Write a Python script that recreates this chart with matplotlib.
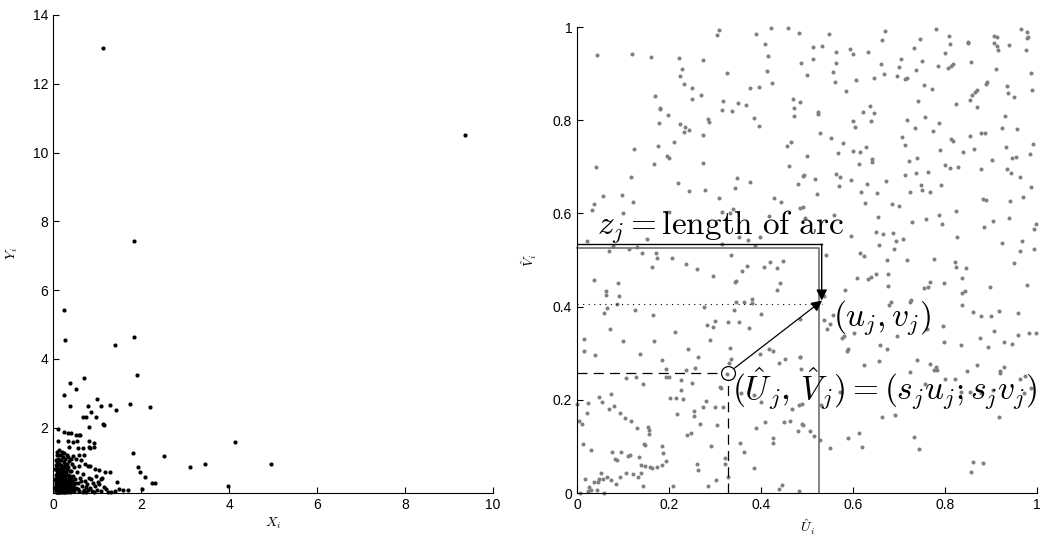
import numpy as np
import matplotlib
matplotlib.use("Agg")
import matplotlib.pyplot as plt

plt.rcParams['font.family'] = ['Liberation Sans', 'DejaVu Sans']
plt.rcParams['mathtext.fontset'] = 'cm'

# ---- left panel: raw (X_i, Y_i) ----
xi_vals = [
    1.14, 9.36, 1.84, 0.25, 0.27, 1.83, 1.41, 1.91, 0.70, 0.39,
    0.52, 0.26, 1.01, 0.38, 0.80, 1.10, 0.87, 1.30, 1.43, 1.74,
    2.21, 0.69, 0.76, 0.98, 1.14, 1.16, 0.81, 0.12, 0.24, 0.33,
    0.41, 0.53, 0.58, 0.62, 0.12, 0.35, 0.45, 0.54, 0.81, 0.93,
    0.81, 0.94, 0.68, 0.85, 0.36, 0.57, 0.70, 1.81, 2.53, 4.14,
    3.11, 3.45, 3.97, 4.95, 1.93, 1.98, 2.08, 2.31, 2.26, 1.46,
    1.50, 1.58, 1.71, 2.02, 1.32, 1.40, 1.18, 1.05, 0.95, 0.85,
    1.30, 0.72, 0.80,
    0.08, 0.10, 0.12, 0.14, 0.09, 0.11, 0.13, 0.16, 0.18, 0.20,
    0.07, 0.15, 0.17, 0.19, 0.22, 0.24, 0.21, 0.23, 0.26, 0.28,
    0.06, 0.08, 0.10, 0.12, 0.14, 0.16, 0.18, 0.20, 0.22, 0.25,
    0.27, 0.29, 0.31, 0.33, 0.30, 0.32, 0.34, 0.36, 0.38, 0.40,
    0.35, 0.37, 0.39, 0.42, 0.44, 0.41, 0.43, 0.45, 0.47, 0.48,
    0.07, 0.09, 0.11, 0.13, 0.15, 0.17, 0.19, 0.21, 0.23, 0.25,
    0.06, 0.08, 0.10, 0.12, 0.14, 0.16, 0.18, 0.20, 0.22, 0.24,
    0.26, 0.28, 0.30, 0.32, 0.34, 0.36, 0.38, 0.40, 0.42, 0.44,
    0.09, 0.11, 0.13, 0.15, 0.17, 0.19, 0.24, 0.28, 0.31, 0.27,
    0.50, 0.52, 0.55, 0.57, 0.60, 0.62, 0.58, 0.65, 0.68, 0.70,
    0.72, 0.75, 0.78, 0.82, 0.85, 0.88, 0.90, 0.95, 1.00, 1.05,
    1.10, 1.15, 1.20, 1.25, 1.08, 0.98, 0.92, 0.64, 0.60, 0.52,
    0.48, 0.46, 0.07, 0.10, 0.14, 0.20, 0.26, 0.33, 0.40, 0.06,
    0.07, 0.09, 0.12, 0.14, 0.16, 0.18, 0.20, 0.22, 0.24, 0.26,
    0.28, 0.30, 0.32, 0.34, 0.36, 0.38, 0.40, 0.10, 0.13, 0.17,
    0.11, 0.15, 0.19, 0.23, 0.05, 0.05, 0.05, 0.06, 0.08, 0.29,
    0.07, 0.10, 0.13, 0.17, 0.21, 0.25, 0.29, 0.33, 0.37, 0.42,
    0.06, 0.09, 0.12, 0.15, 0.19, 0.23, 0.27, 0.31, 0.35, 0.39,
    0.46, 0.51, 0.56, 0.63, 0.67, 0.74, 0.79, 0.86, 1.02, 1.12,
]
yi_vals = [
    13.05, 10.5, 7.42, 5.42, 4.54, 4.64, 4.41, 3.52, 3.45, 3.30,
    3.11, 2.96, 2.84, 2.64, 2.64, 2.64, 2.45, 2.66, 2.52, 2.68,
    2.60, 2.30, 2.30, 2.30, 2.10, 2.07, 2.01, 1.96, 1.86, 1.85,
    1.84, 1.80, 1.80, 1.79, 1.60, 1.60, 1.58, 1.62, 1.60, 1.55,
    1.45, 1.44, 1.40, 1.42, 1.45, 1.42, 1.22, 1.27, 1.17, 1.59,
    0.87, 0.94, 0.29, 0.95, 0.85, 0.72, 0.58, 0.40, 0.38, 0.42,
    0.22, 0.18, 0.18, 0.22, 0.12, 0.15, 0.72, 0.78, 0.80, 0.88,
    0.70, 0.95, 0.90,
    0.15, 0.22, 0.13, 0.30, 0.40, 0.52, 0.18, 0.25, 0.14, 0.35,
    0.28, 0.45, 0.60, 0.20, 0.12, 0.28, 0.50, 0.65, 0.18, 0.40,
    0.62, 0.75, 0.88, 0.70, 0.95, 0.80, 1.05, 0.90, 1.15, 0.82,
    0.55, 0.25, 0.13, 0.32, 0.70, 0.95, 0.48, 0.20, 0.60, 0.30,
    0.85, 1.02, 0.14, 0.45, 0.22, 0.75, 0.95, 0.60, 0.35, 0.15,
    0.18, 0.33, 0.12, 0.42, 0.16, 0.36, 0.48, 0.27, 0.16, 0.38,
    0.45, 0.55, 0.65, 0.35, 0.58, 0.12, 0.72, 0.15, 0.42, 0.55,
    0.68, 0.13, 0.50, 0.22, 0.62, 0.40, 0.26, 0.52, 0.18, 0.40,
    1.00, 1.10, 1.20, 1.05, 0.92, 1.22, 1.00, 1.10, 1.22, 0.92,
    0.50, 0.25, 0.70, 0.40, 0.15, 0.55, 0.90, 0.30, 0.65, 0.20,
    0.45, 0.13, 0.35, 0.55, 0.25, 0.16, 0.40, 0.30, 0.20, 0.35,
    0.15, 0.28, 0.22, 0.12, 0.50, 0.60, 0.12, 1.05, 1.20, 1.10,
    0.85, 1.18, 0.92, 1.30, 1.35, 1.30, 1.25, 1.15, 1.10, 0.12,
    0.38, 0.12, 0.25, 0.14, 0.40, 0.30, 0.62, 0.22, 0.14, 0.45,
    0.60, 0.35, 0.80, 0.16, 0.55, 0.75, 0.18, 0.46, 0.62, 0.50,
    0.80, 0.72, 0.85, 0.78, 0.25, 0.50, 0.80, 1.05, 1.20, 0.82,
    0.20, 0.17, 0.21, 0.23, 0.19, 0.21, 0.17, 0.24, 0.28, 0.26,
    0.33, 0.26, 0.47, 0.32, 0.42, 0.35, 0.31, 0.43, 0.37, 0.44,
    0.28, 0.38, 0.22, 0.45, 0.14, 0.28, 0.18, 0.50, 0.42, 0.55,
]

# ---- right panel: transformed (U_i, V_i) ----
ui_vals = [
    0.043, 0.119, 0.160, 0.221, 0.273, 0.228, 0.223, 0.233, 0.250, 0.251,
    0.269, 0.170, 0.181, 0.180, 0.197, 0.179, 0.225, 0.235, 0.232, 0.244,
    0.285, 0.288, 0.275, 0.304, 0.309, 0.326, 0.317, 0.316, 0.338, 0.351,
    0.367, 0.384, 0.396, 0.376, 0.395, 0.389, 0.421, 0.408, 0.416, 0.412,
    0.425, 0.459, 0.483, 0.488, 0.469, 0.471, 0.472, 0.485, 0.465, 0.457,
    0.461, 0.480, 0.492, 0.124, 0.042, 0.117, 0.168, 0.177, 0.195, 0.199,
    0.211, 0.275, 0.220, 0.244, 0.278, 0.309, 0.343, 0.348, 0.377, 0.429,
    0.443, 0.485, 0.492, 0.057, 0.097, 0.122, 0.037, 0.033, 0.099, 0.152,
    0.021, 0.070, 0.079, 0.114, 0.130, 0.142, 0.172, 0.175, 0.207, 0.238,
    0.162, 0.260, 0.315, 0.334, 0.353, 0.372, 0.388, 0.397, 0.339, 0.417,
    0.369, 0.407, 0.420, 0.447, 0.435, 0.201, 0.315, 0.332, 0.495,
    0.548, 0.512, 0.533, 0.513, 0.562, 0.593, 0.599, 0.632, 0.564, 0.557,
    0.499, 0.561, 0.607, 0.584, 0.646, 0.667, 0.661, 0.701, 0.705, 0.695,
    0.712, 0.717, 0.669, 0.662, 0.733, 0.746, 0.781, 0.808, 0.811, 0.799,
    0.751, 0.784, 0.806, 0.817, 0.814, 0.736, 0.856, 0.849, 0.850, 0.907,
    0.913, 0.907, 0.912, 0.915, 0.939, 0.966, 0.978, 0.981, 0.978, 0.976,
    0.910, 0.987, 0.755, 0.772, 0.891, 0.890, 0.865, 0.869, 0.858, 0.934,
    0.938, 0.951, 0.989, 0.742, 0.825, 0.854, 0.869, 0.622, 0.637, 0.646,
    0.523, 0.525, 0.600, 0.605, 0.639, 0.757, 0.717, 0.734, 0.786, 0.773,
    0.930, 0.925, 0.956, 0.528, 0.552, 0.579, 0.707, 0.713, 0.813, 0.818,
    0.854, 0.879, 0.888, 0.932, 0.991, 0.499, 0.567, 0.600, 0.616, 0.628,
    0.789, 0.839, 0.863, 0.984, 0.642, 0.641, 0.613, 0.740, 0.722, 0.801,
    0.810, 0.829, 0.878, 0.902, 0.946, 0.954, 0.935, 0.944, 0.962, 0.493,
    0.517, 0.563, 0.572, 0.595, 0.569, 0.631, 0.671, 0.712, 0.738, 0.764,
    0.723, 0.747, 0.750, 0.767, 0.791, 0.521, 0.618, 0.652, 0.882, 0.890,
    0.942, 0.970, 0.988, 0.627, 0.684, 0.701, 0.824, 0.559, 0.654, 0.728,
    0.759, 0.786, 0.793, 0.904, 0.884, 0.940, 0.998, 0.994, 0.596, 0.649,
    0.665, 0.686, 0.708, 0.693, 0.657, 0.689, 0.827, 0.967, 0.923, 0.964,
    0.994, 0.615, 0.623, 0.673, 0.717, 0.776, 0.821, 0.823, 0.845, 0.951,
    0.541,
    0.037, 0.063, 0.062, 0.065, 0.058, 0.086, 0.090, 0.091, 0.072, 0.016,
    0.015, 0.039, 0.101, 0.126, 0.165, 0.138, 0.167, 0.214, 0.185, 0.193,
    0.241, 0.263, 0.257, 0.237, 0.282, 0.296, 0.301, 0.290, 0.277, 0.295,
    0.328, 0.352, 0.374, 0.332, 0.335, 0.345, 0.341, 0.346, 0.381, 0.381,
    0.400, 0.364, 0.359, 0.343, 0.434, 0.441, 0.417, 0.397, 0.427, 0.439,
    0.453, 0.485, 0.485, 0.488, 0.106, 0.128, 0.144, 0.201, 0.193, 0.226,
    0.249, 0.203, 0.216, 0.231, 0.227, 0.280, 0.275, 0.255, 0.255, 0.217,
    0.267, 0.240, 0.247, 0.299, 0.305, 0.318, 0.311, 0.005, 0.011, 0.000,
    0.023, 0.021, 0.048, 0.055, 0.073, 0.069, 0.080, 0.093, 0.104, 0.117,
    0.131, 0.154, 0.156, 0.156, 0.146, 0.147, 0.135, 0.116, 0.111, 0.077,
    0.096, 0.083, 0.088, 0.014, 0.031, 0.185, 0.187, 0.193, 0.184, 0.140,
    0.148, 0.159, 0.164, 0.175, 0.140, 0.107, 0.121, 0.133, 0.094, 0.084,
    0.075, 0.065, 0.057, 0.048, 0.052, 0.046, 0.036, 0.027, 0.017, 0.023,
    0.030, 0.006, 0.059, 0.044, 0.144, 0.209, 0.261, 0.264, 0.284, 0.302,
    0.322, 0.321, 0.291, 0.328, 0.354, 0.364, 0.385, 0.390, 0.409, 0.427,
    0.426, 0.480, 0.490, 0.440, 0.446, 0.483, 0.462, 0.449, 0.468, 0.356,
    0.384, 0.401, 0.483, 0.490, 0.454, 0.330, 0.314, 0.327,
    0.608, 0.633, 0.639, 0.651, 0.677, 0.676, 0.755, 0.762, 0.768, 0.797,
    0.836, 0.844, 0.838, 0.838, 0.898, 0.978, 0.582, 0.538, 0.557, 0.550,
    0.543, 0.536, 0.580, 0.576, 0.603, 0.590, 0.586, 0.682, 0.679, 0.726,
    0.724, 0.760, 0.795, 0.798, 0.695, 0.659, 0.675, 0.860, 0.878, 0.901,
    0.918, 0.958, 0.834, 0.876, 0.894, 0.906, 0.928, 0.946, 0.959, 0.982,
    0.997, 0.625, 0.657, 0.739, 0.768, 0.781, 0.782, 0.776, 0.724, 0.757,
    0.801, 0.821, 0.847, 0.870, 0.919, 0.919, 0.928, 0.962, 0.974, 0.971,
    0.987, 0.834, 0.854, 0.879, 0.905, 0.572, 0.485, 0.491, 0.506, 0.516,
    0.528, 0.550, 0.530, 0.663, 0.692, 0.733, 0.744, 0.589, 0.612, 0.620,
    0.918, 0.860, 0.883, 0.856,
]
vi_vals = [
    0.940, 0.941, 0.936, 0.934, 0.929, 0.909, 0.895, 0.878, 0.869, 0.845,
    0.854, 0.852, 0.827, 0.824, 0.811, 0.793, 0.791, 0.786, 0.775, 0.779,
    0.802, 0.796, 0.769, 0.983, 0.994, 0.902, 0.841, 0.822, 0.820, 0.836,
    0.832, 0.804, 0.788, 0.870, 0.872, 0.985, 0.997, 0.964, 0.938, 0.905,
    0.880, 0.997, 0.988, 0.923, 0.846, 0.826, 0.808, 0.838, 0.754, 0.744,
    0.701, 0.664, 0.680, 0.738, 0.700, 0.679, 0.705, 0.745, 0.723, 0.718,
    0.753, 0.709, 0.666, 0.649, 0.650, 0.634, 0.655, 0.675, 0.667, 0.632,
    0.625, 0.611, 0.614, 0.638, 0.639, 0.624, 0.620, 0.608, 0.600, 0.546,
    0.540, 0.520, 0.530, 0.524, 0.527, 0.514, 0.516, 0.505, 0.505, 0.492,
    0.486, 0.481, 0.534, 0.510, 0.550, 0.543, 0.529, 0.550, 0.609, 0.595,
    0.488, 0.486, 0.495, 0.498, 0.482, 0.603, 0.604, 0.600, 0.590,
    0.986, 0.958, 0.960, 0.932, 0.947, 0.953, 0.943, 0.946, 0.922, 0.904,
    0.897, 0.883, 0.887, 0.863, 0.891, 0.899, 0.920, 0.914, 0.931, 0.894,
    0.889, 0.891, 0.992, 0.973, 0.955, 0.974, 0.995, 0.981, 0.963, 0.944,
    0.927, 0.917, 0.911, 0.920, 0.916, 0.907, 0.925, 0.968, 0.966, 0.981,
    0.979, 0.966, 0.959, 0.951, 0.961, 0.996, 0.990, 0.979, 0.976, 0.951,
    0.910, 0.901, 0.875, 0.867, 0.883, 0.878, 0.861, 0.865, 0.854, 0.874,
    0.858, 0.849, 0.865, 0.842, 0.834, 0.843, 0.829, 0.818, 0.831, 0.815,
    0.817, 0.813, 0.799, 0.786, 0.798, 0.806, 0.801, 0.784, 0.795, 0.777,
    0.809, 0.783, 0.781, 0.772, 0.761, 0.752, 0.763, 0.747, 0.759, 0.756,
    0.767, 0.773, 0.772, 0.742, 0.750, 0.723, 0.729, 0.734, 0.731, 0.742,
    0.736, 0.732, 0.739, 0.727, 0.716, 0.711, 0.705, 0.719, 0.712, 0.704,
    0.698, 0.699, 0.696, 0.715, 0.718, 0.722, 0.695, 0.686, 0.679, 0.682,
    0.673, 0.685, 0.678, 0.672, 0.658, 0.663, 0.670, 0.682, 0.687, 0.689,
    0.647, 0.660, 0.651, 0.646, 0.660, 0.642, 0.645, 0.643, 0.631, 0.629,
    0.627, 0.636, 0.657, 0.622, 0.621, 0.615, 0.605, 0.597, 0.593, 0.581,
    0.589, 0.597, 0.577, 0.583, 0.570, 0.591, 0.578, 0.566, 0.552, 0.560,
    0.556, 0.559, 0.545, 0.540, 0.532, 0.523, 0.549, 0.541, 0.536, 0.519,
    0.523, 0.514, 0.509, 0.501, 0.500, 0.502, 0.495, 0.484, 0.482, 0.493,
    0.511,
    0.457, 0.434, 0.425, 0.398, 0.386, 0.405, 0.450, 0.423, 0.353, 0.331,
    0.304, 0.297, 0.326, 0.393, 0.382, 0.298, 0.327, 0.345, 0.286, 0.267,
    0.308, 0.292, 0.268, 0.265, 0.360, 0.357, 0.370, 0.328, 0.400, 0.466,
    0.368, 0.366, 0.355, 0.312, 0.288, 0.409, 0.392, 0.454, 0.416, 0.407,
    0.384, 0.409, 0.476, 0.452, 0.436, 0.451, 0.309, 0.298, 0.305, 0.280,
    0.288, 0.374, 0.292, 0.267, 0.247, 0.249, 0.233, 0.248, 0.250, 0.242,
    0.236, 0.204, 0.203, 0.201, 0.222, 0.197, 0.185, 0.176, 0.166, 0.169,
    0.148, 0.124, 0.129, 0.184, 0.145, 0.185, 0.227, 0.155, 0.148, 0.190,
    0.193, 0.172, 0.205, 0.195, 0.213, 0.181, 0.187, 0.172, 0.162, 0.154,
    0.139, 0.142, 0.136, 0.126, 0.106, 0.102, 0.078, 0.081, 0.080, 0.087,
    0.089, 0.073, 0.070, 0.105, 0.092, 0.101, 0.086, 0.069, 0.060, 0.060,
    0.059, 0.055, 0.053, 0.056, 0.044, 0.044, 0.040, 0.035, 0.034, 0.020,
    0.027, 0.035, 0.031, 0.031, 0.043, 0.024, 0.024, 0.012, 0.030, 0.004,
    0.007, 0.000, 0.001, 0.007, 0.014, 0.016, 0.062, 0.049, 0.016, 0.028,
    0.063, 0.075, 0.101, 0.035, 0.108, 0.087, 0.054, 0.140, 0.152, 0.118,
    0.108, 0.134, 0.149, 0.008, 0.018, 0.005, 0.155, 0.153, 0.180, 0.215,
    0.210, 0.196, 0.188, 0.192, 0.208, 0.278, 0.225, 0.255,
    0.461, 0.459, 0.464, 0.470, 0.469, 0.444, 0.441, 0.443, 0.453, 0.451,
    0.429, 0.433, 0.462, 0.403, 0.443, 0.446, 0.436, 0.422, 0.382, 0.363,
    0.351, 0.371, 0.336, 0.333, 0.343, 0.309, 0.304, 0.410, 0.403, 0.414,
    0.410, 0.351, 0.359, 0.325, 0.338, 0.317, 0.309, 0.388, 0.379, 0.379,
    0.390, 0.387, 0.318, 0.332, 0.314, 0.348, 0.323, 0.320, 0.339, 0.343,
    0.344, 0.275, 0.283, 0.285, 0.277, 0.271, 0.265, 0.264, 0.259, 0.235,
    0.245, 0.244, 0.262, 0.274, 0.262, 0.257, 0.271, 0.244, 0.251, 0.214,
    0.225, 0.217, 0.216, 0.214, 0.221, 0.216, 0.291, 0.146, 0.134, 0.123,
    0.114, 0.096, 0.188, 0.164, 0.167, 0.121, 0.094, 0.119, 0.128, 0.099,
    0.163, 0.066, 0.065, 0.046,
]

# annotated sample point j
u_j, v_j = 0.533, 0.405
U_j, V_j = 0.328, 0.257
z_level = 0.532

fig = plt.figure(figsize=(10.4, 5.39), dpi=100)
ax1 = fig.add_axes([0.051, 0.0853, 0.423, 0.887])
ax2 = fig.add_axes([0.5548, 0.0853, 0.4423, 0.8646])

for ax in (ax1, ax2):
    for s in ('top', 'right'):
        ax.spines[s].set_visible(False)
    ax.tick_params(direction='in', length=4, labelsize=10, width=0.8)

ax1.plot(xi_vals, yi_vals, 'o', ms=3.0, color='black', mew=0, clip_on=False)
ax1.set_xlim(0, 10)
ax1.set_ylim(0.1, 14)
ax1.set_xticks([0, 2, 4, 6, 8, 10])
ax1.set_yticks([2, 4, 6, 8, 10, 12, 14])
ax1.set_xlabel(r'$X_i$', fontsize=10, labelpad=3)
ax1.set_ylabel(r'$Y_i$', fontsize=10, labelpad=9)

grey = '#808080'
ax2.plot(ui_vals, vi_vals, 'o', ms=2.9, color=grey, mew=0, clip_on=False)
ax2.set_xlim(0, 1)
ax2.set_ylim(0, 1)
ticks = [0, 0.2, 0.4, 0.6, 0.8, 1]
ax2.set_xticks(ticks, ['0', '0.2', '0.4', '0.6', '0.8', '1'])
ax2.set_yticks(ticks, ['0', '0.2', '0.4', '0.6', '0.8', '1'])
ax2.set_xlabel(r'$\hat{U}_i$', fontsize=10, labelpad=4)
ax2.set_ylabel(r'$\hat{V}_i$', fontsize=10, labelpad=10)

# arc-length construction
ax2.plot([0, z_level - 0.005, z_level - 0.005], [z_level - 0.006, z_level - 0.006, 0],
         color='#707070', lw=1.2, clip_on=False)
ax2.plot([0, z_level], [z_level + 0.002, z_level + 0.002], color='black', lw=1.0)
ax2.annotate('', xy=(z_level, v_j + 0.008), xytext=(z_level, z_level + 0.002),
             arrowprops=dict(arrowstyle='-|>', color='black', lw=1.0,
                             mutation_scale=16, shrinkA=0, shrinkB=0))
ax2.plot([0, u_j], [v_j, v_j], color='black', lw=0.8, ls=(0, (1, 4)))
ax2.plot([0, U_j - 0.013], [V_j, V_j], color='black', lw=0.9, ls=(0, (8, 5)))
ax2.plot([U_j, U_j], [0, V_j - 0.013], color='black', lw=0.9, ls=(0, (8, 5)))
ax2.plot([U_j], [V_j], 'o', ms=10, mfc='none', mec='black', mew=0.9)
ax2.annotate('', xy=(u_j, v_j + 0.008), xytext=(U_j, V_j),
             arrowprops=dict(arrowstyle='-|>', color='black', lw=0.9,
                             mutation_scale=16, shrinkA=6, shrinkB=0))

ax2.text(0.043, 0.558, r'$z_j = \mathrm{length\ of\ arc}$', fontsize=24, va='baseline')
ax2.text(0.556, 0.360, r'$(u_j,v_j)$', fontsize=24, va='baseline')
ax2.text(0.337, 0.200, r'$(\hat{U}_j,\, \hat{V}_j) = (s_j u_j; s_j v_j)$',
         fontsize=24, va='baseline', clip_on=False)

fig.savefig('out.png', dpi=100)
